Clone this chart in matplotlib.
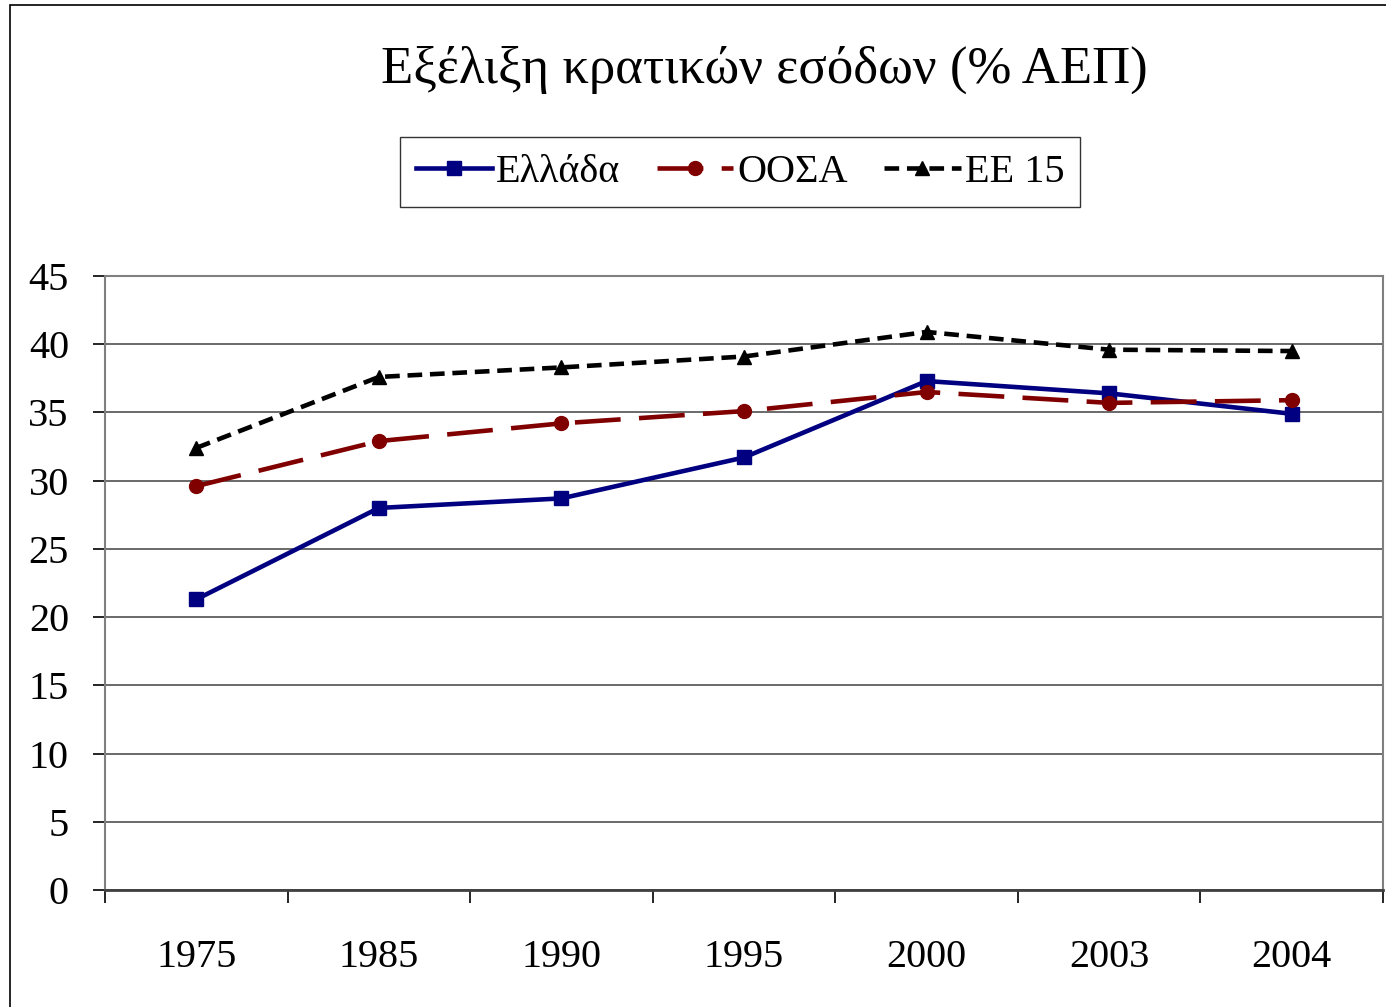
import matplotlib
matplotlib.use('Agg')
import matplotlib.pyplot as plt
from matplotlib.patches import Rectangle

plt.rcParams['font.family'] = ['Liberation Serif', 'DejaVu Serif']

# data
years = ['1975', '1985', '1990', '1995', '2000', '2003', '2004']
greece = [21.3, 28.0, 28.7, 31.7, 37.3, 36.4, 34.9]
oecd = [29.6, 32.9, 34.2, 35.1, 36.5, 35.7, 35.9]
eu15 = [32.4, 37.6, 38.3, 39.1, 40.9, 39.6, 39.5]
yticks = list(range(0, 50, 5))

W, H = 1386, 1007
fig = plt.figure(figsize=(W / 100, H / 100), dpi=100)

# outer chart frame (cut by the image edges on the right/bottom)
fig.patches.append(Rectangle((10 / W, -0.1), 2, 1.1 - 5 / H, transform=fig.transFigure,
                             fill=False, edgecolor='black', linewidth=1.2))

ax = fig.add_axes([105 / W, 1 - 890 / H, (1383 - 105) / W, (890 - 276) / H])
x = list(range(len(years)))

ax.plot(x, greece, color='#000080', lw=3.3, marker='s', markersize=10.5, label='Ελλάδα', zorder=3)
ax.plot(x, oecd, color='#800000', lw=3.3, linestyle=(0, (10, 4)), marker='o', markersize=10,
        label='ΟΟΣΑ', zorder=3)
ax.plot(x, eu15, color='black', lw=3.3, linestyle=(0, (3.2, 1.7)), marker='^', markersize=10,
        label='ΕΕ 15', zorder=3)

ax.set_xlim(-0.5, len(years) - 0.5)
ax.set_ylim(0, 45)
ax.set_yticks(yticks)
ax.yaxis.grid(True, color='#505050', lw=1.2)
ax.set_axisbelow(True)

# excel style category axis: ticks between categories, labels centred
ax.set_xticks([i - 0.5 for i in range(len(years) + 1)])
ax.set_xticklabels([])
ax.set_xticks(x, minor=True)
ax.set_xticklabels(years, minor=True)
ax.tick_params(axis='x', which='major', length=9, width=1.2, color='black', direction='out')
ax.tick_params(axis='x', which='minor', length=0, pad=35, labelsize=29)
ax.tick_params(axis='y', length=9, width=1.2, color='black', direction='out', pad=17, labelsize=29)

for s in ['top', 'right', 'left']:
    ax.spines[s].set_color('#808080')
    ax.spines[s].set_linewidth(1.5)
ax.spines['bottom'].set_color('#404040')
ax.spines['bottom'].set_linewidth(2)

fig.text(764 / W, 1 - 70 / H, 'Εξέλιξη κρατικών εσόδων (% ΑΕΠ)', ha='center', va='center',
         fontsize=38)

leg = fig.legend(loc='center', bbox_to_anchor=(740 / W, 1 - 172 / H), ncol=3, fontsize=29,
                 frameon=True, fancybox=False, edgecolor='black', handlelength=1.9,
                 handletextpad=0.1, columnspacing=0.9, borderpad=0.4)
leg.get_frame().set_linewidth(1.0)

fig.savefig('out.png', dpi=100)
